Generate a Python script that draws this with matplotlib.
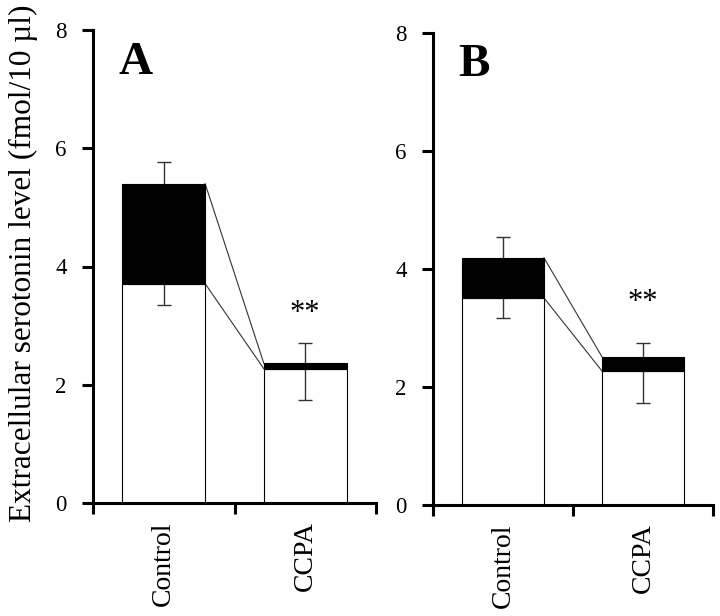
import numpy as np
import matplotlib
matplotlib.use("Agg")
import matplotlib.pyplot as plt

plt.rcParams['font.family'] = ['Liberation Serif', 'DejaVu Serif']

# datos
groups = ["Control", "CCPA"]
panels = ["A", "B"]
white_a = [3.71, 2.27]
total_a = [5.40, 2.36]
err_lo_a = [3.35, 1.74]
err_hi_a = [5.77, 2.70]
white_b = [3.51, 2.27]
total_b = [4.19, 2.51]
err_lo_b = [3.17, 1.73]
err_hi_b = [4.54, 2.74]
star_y = [3.21, 3.44]
yticks = [0, 2, 4, 6, 8]

fig = plt.figure(figsize=(7.2, 6.16), dpi=100)
ax_a = fig.add_axes([93/720, 1-503/616, (376-93)/720, (503-30)/616])
ax_b = fig.add_axes([433/720, 1-505/616, (713-433)/720, (505-33)/616])

data = [(ax_a, white_a, total_a, err_lo_a, err_hi_a),
        (ax_b, white_b, total_b, err_lo_b, err_hi_b)]

w = 0.585
x = np.array([0.5, 1.5])
for i, (ax, white, total, lo, hi) in enumerate(data):
    white = np.array(white)
    total = np.array(total)
    lo = np.array(lo)
    hi = np.array(hi)
    ax.bar(x, white, width=w, color='white', edgecolor='black', linewidth=0.8, zorder=1)
    mid = (lo + hi) / 2
    ax.errorbar(x, mid, yerr=(hi - lo) / 2, fmt='none', ecolor='#333333',
                elinewidth=1, capsize=4.7, capthick=1, zorder=2)
    ax.bar(x, total - white, bottom=white, width=w, color='black',
           edgecolor='black', linewidth=0.8, zorder=3)
    # lineas que unen las barras
    ax.plot([x[0] + w/2, x[1] - w/2], [total[0], total[1]], color='#333333', lw=0.8, zorder=2)
    ax.plot([x[0] + w/2, x[1] - w/2], [white[0], white[1]], color='#333333', lw=0.8, zorder=2)
    ax.text(x[1], star_y[i], "**", ha='center', va='center', fontsize=22)
    ax.text(0.18, 7.45, panels[i], ha='left', va='center', fontsize=34, fontweight='bold')

    ax.set_xlim(0, 2)
    ax.set_ylim(0, 8)
    ax.set_yticks(yticks)
    ax.set_yticklabels([str(t) for t in yticks], fontsize=16.5)
    ax.set_xticks([0, 1, 2])
    ax.set_xticklabels([])
    ax.set_xticks(x, minor=True)
    ax.set_xticklabels(groups, minor=True, rotation=90, fontsize=20)
    ax.tick_params(axis='x', which='minor', length=0, pad=13)
    ax.tick_params(axis='both', which='major', direction='out', length=8, width=2.2)
    ax.tick_params(axis='y', pad=11)
    ax.spines['top'].set_visible(False)
    ax.spines['right'].set_visible(False)
    ax.spines['left'].set_linewidth(2.2)
    ax.spines['bottom'].set_linewidth(2.2)

fig.text(23/720, 1-263/616, "Extracellular serotonin level (fmol/10 \u00b5l)",
         rotation=90, ha='center', va='center', fontsize=22.5)

plt.savefig("out.png", dpi=100)
